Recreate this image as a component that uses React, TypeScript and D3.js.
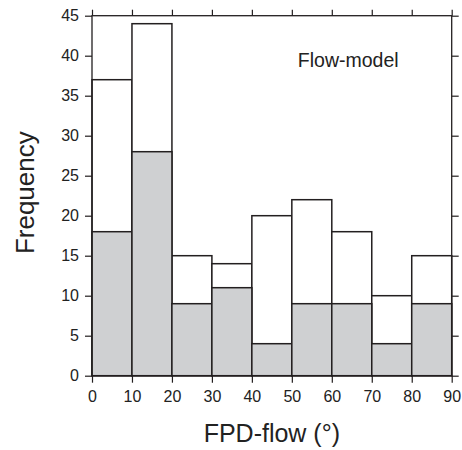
import React, { useEffect, useRef } from "react";
import * as d3 from "d3";

// bin edges (degrees) and counts
const binStarts = [0, 10, 20, 30, 40, 50, 60, 70, 80];
const totalCounts = [37, 44, 15, 14, 20, 22, 18, 10, 15];
const grayCounts = [18, 28, 9, 11, 4, 9, 9, 4, 9];
const xTicks = [0, 10, 20, 30, 40, 50, 60, 70, 80, 90];
const yTicks = [0, 5, 10, 15, 20, 25, 30, 35, 40, 45];

const width = 462;
const height = 450;
const margin = { top: 15.7, right: 10.3, bottom: 74.3, left: 92 };
const ink = "#231f20";
const font = "'Liberation Sans', Arial, Helvetica, sans-serif";

const App = () => {
  const ref = useRef<SVGSVGElement>(null);

  useEffect(() => {
    document.body.style.margin = "0";
    const svg = d3.select(ref.current);
    svg.selectAll("*").remove();

    const x = d3.scaleLinear().domain([0, 90]).range([margin.left, width - margin.right]);
    const y = d3.scaleLinear().domain([0, 45]).range([height - margin.bottom, margin.top]);

    const g = svg.append("g");
    const bins = binStarts.map((s, i) => ({ s, total: totalCounts[i], gray: grayCounts[i] }));

    // white totals
    g.selectAll("rect.total")
      .data(bins)
      .enter()
      .append("rect")
      .attr("x", (d) => x(d.s))
      .attr("width", (d) => x(d.s + 10) - x(d.s))
      .attr("y", (d) => y(d.total))
      .attr("height", (d) => y(0) - y(d.total))
      .attr("fill", "#fff")
      .attr("stroke", ink)
      .attr("stroke-width", 1.5);

    // gray subset
    g.selectAll("rect.gray")
      .data(bins)
      .enter()
      .append("rect")
      .attr("x", (d) => x(d.s))
      .attr("width", (d) => x(d.s + 10) - x(d.s))
      .attr("y", (d) => y(d.gray))
      .attr("height", (d) => y(0) - y(d.gray))
      .attr("fill", "#cfd0d2")
      .attr("stroke", ink)
      .attr("stroke-width", 1.5);

    // frame
    svg
      .append("rect")
      .attr("x", x(0))
      .attr("y", y(45))
      .attr("width", x(90) - x(0))
      .attr("height", y(0) - y(45))
      .attr("fill", "none")
      .attr("stroke", ink)
      .attr("stroke-width", 1.3);

    const styleAxis = (sel: any) => {
      sel.select(".domain").remove();
      sel.selectAll(".tick line").attr("stroke", ink).attr("stroke-width", 1.2);
      sel.selectAll(".tick text").attr("fill", "#222").attr("font-family", font).attr("font-size", 16);
    };

    svg
      .append("g")
      .attr("transform", `translate(0,${y(0)})`)
      .call(d3.axisBottom(x).tickValues(xTicks).tickSize(7).tickPadding(8))
      .call(styleAxis);
    svg
      .append("g")
      .attr("transform", `translate(0,${y(45)})`)
      .call(d3.axisTop(x).tickValues(xTicks).tickSize(6).tickFormat(() => ""))
      .call(styleAxis);
    svg
      .append("g")
      .attr("transform", `translate(${x(0)},0)`)
      .call(d3.axisLeft(y).tickValues(yTicks).tickSize(7).tickPadding(6))
      .call(styleAxis);
    svg
      .append("g")
      .attr("transform", `translate(${x(90)},0)`)
      .call(d3.axisRight(y).tickValues(yTicks).tickSize(7).tickFormat(() => ""))
      .call(styleAxis);

    svg
      .append("text")
      .attr("x", x(51.5))
      .attr("y", y(38.6))
      .attr("font-family", font)
      .attr("font-size", 19.5)
      .attr("fill", "#222")
      .text("Flow-model");

    svg
      .append("text")
      .attr("x", (x(0) + x(90)) / 2)
      .attr("y", 442)
      .attr("text-anchor", "middle")
      .attr("font-family", font)
      .attr("font-size", 25)
      .attr("fill", "#222")
      .text("FPD-flow (°)");

    svg
      .append("text")
      .attr("transform", `translate(34,${(y(0) + y(45)) / 2 - 3}) rotate(-90)`)
      .attr("text-anchor", "middle")
      .attr("font-family", font)
      .attr("font-size", 26)
      .attr("fill", "#222")
      .text("Frequency");
  }, []);

  return <svg ref={ref} width={width} height={height} style={{ display: "block" }} />;
};

export default App;
